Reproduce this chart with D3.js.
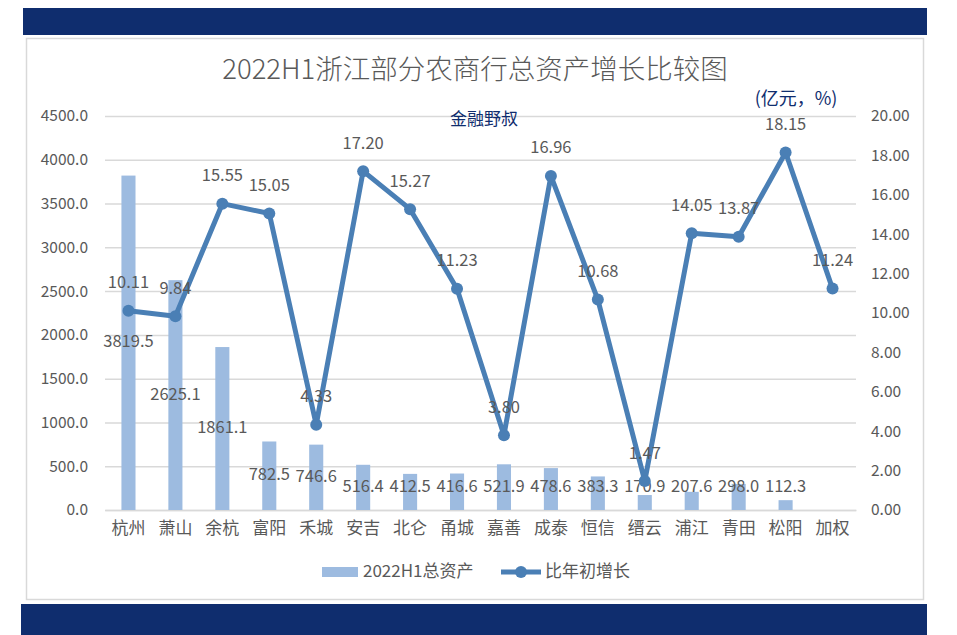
<!DOCTYPE html>
<html>
<head>
<meta charset="utf-8">
<script src="https://cdn.jsdelivr.net/npm/d3@7"></script>
<style>
    body { margin: 0; background: #fff; }
    svg text { font-family: "Noto Sans CJK SC", "Noto Sans", sans-serif; }
</style>
</head>
<body>
<div class="chart"></div>
<script>
// chart data
const banks = ["杭州", "萧山", "余杭", "富阳", "禾城", "安吉", "北仑", "甬城", "嘉善", "成泰", "恒信", "缙云", "浦江", "青田", "松阳", "加权"];
const totalAssets = [3819.5, 2625.1, 1861.1, 782.5, 746.6, 516.4, 412.5, 416.6, 521.9, 478.6, 383.3, 170.9, 207.6, 298.0, 112.3, null];
const growth = [10.11, 9.84, 15.55, 15.05, 4.33, 17.20, 15.27, 11.23, 3.80, 16.96, 10.68, 1.47, 14.05, 13.87, 18.15, 11.24];
const leftTicks = [0, 500, 1000, 1500, 2000, 2500, 3000, 3500, 4000, 4500];
const rightTicks = [0, 2, 4, 6, 8, 10, 12, 14, 16, 18, 20];

const width = 957, height = 635;
const margin = {top: 116, left: 105, right: 101, bottom: 125};
const navy = "#0f2d6e";
const barColor = "#9dbbe0";
const lineColor = "#4a7fb5";
const textGrey = "#595959";

const svg = d3.select(".chart").append("svg")
    .attr("width", width)
    .attr("height", height);

// frame: navy bars top & bottom, grey bordered box
svg.append("rect").attr("x", 23).attr("y", 8).attr("width", 904).attr("height", 27).style("fill", navy);
svg.append("rect").attr("x", 21).attr("y", 604).attr("width", 906).attr("height", 31).style("fill", navy);
svg.append("rect").attr("x", 26.5).attr("y", 38.5).attr("width", 897).attr("height", 561)
    .style("fill", "#fff").style("stroke", "#d9d9d9").style("stroke-width", 1.5);

const x = d3.scaleBand()
    .domain(banks)
    .range([margin.left, width - margin.right])
    .paddingInner(0.7)
    .paddingOuter(0.35);

const yL = d3.scaleLinear().domain([0, 4500]).range([height - margin.bottom, margin.top]);
const yR = d3.scaleLinear().domain([0, 20]).range([height - margin.bottom, margin.top]);

// gridlines
const grid = svg.append("g")
    .attr("transform", "translate(" + margin.left + ",0)")
    .call(d3.axisLeft(yL).tickValues(leftTicks)
        .tickSize(-(width - margin.left - margin.right)).tickFormat(""));
grid.select("path").remove();
grid.selectAll("line").style("stroke", "#d9d9d9").style("stroke-width", 1.5);

// left axis
const leftAxis = svg.append("g")
    .attr("transform", "translate(" + (margin.left - 14) + ",0)")
    .call(d3.axisLeft(yL).tickValues(leftTicks).tickSize(0).tickFormat(d3.format(".1f")));
leftAxis.select("path").remove();
leftAxis.selectAll("text").style("font-size", "15.5px").style("fill", textGrey);

// right axis
const rightAxis = svg.append("g")
    .attr("transform", "translate(" + (width - margin.right + 12) + ",0)")
    .call(d3.axisRight(yR).tickValues(rightTicks).tickSize(0).tickFormat(d3.format(".2f")));
rightAxis.select("path").remove();
rightAxis.selectAll("text").style("font-size", "15.5px").style("fill", textGrey);

// category axis
const xAxis = svg.append("g")
    .attr("transform", "translate(0," + (height - margin.bottom) + ")")
    .call(d3.axisBottom(x).tickSize(0).tickPadding(12));
xAxis.select("path").style("stroke", "#d9d9d9").style("stroke-width", 1.5);
xAxis.selectAll("text").style("font-size", "17px").style("fill", textGrey);

// bars
const barData = banks.map((b, i) => ({name: b, v: totalAssets[i]})).filter(d => d.v !== null);
svg.selectAll(".bar")
    .data(barData)
    .enter().append("rect")
    .attr("class", "bar")
    .attr("x", d => x(d.name))
    .attr("width", x.bandwidth())
    .attr("y", d => yL(d.v))
    .attr("height", d => yL(0) - yL(d.v))
    .style("fill", barColor);

// bar labels, centred in the bar but kept clear of the axis
svg.selectAll(".barLabel")
    .data(barData)
    .enter().append("text")
    .attr("x", d => x(d.name) + x.bandwidth() / 2)
    .attr("y", d => Math.min(yL(d.v / 2), yL(0) - 22))
    .attr("text-anchor", "middle")
    .attr("dominant-baseline", "middle")
    .style("font-size", "16.5px")
    .style("fill", textGrey)
    .text(d => d3.format(".1f")(d.v));

// growth line
const lineData = banks.map((b, i) => ({name: b, v: growth[i]}));
const cx = d => x(d.name) + x.bandwidth() / 2;
svg.append("path")
    .datum(lineData)
    .attr("d", d3.line().x(cx).y(d => yR(d.v)))
    .style("fill", "none")
    .style("stroke", lineColor)
    .style("stroke-width", 5)
    .style("stroke-linejoin", "round");

svg.selectAll(".dot")
    .data(lineData)
    .enter().append("circle")
    .attr("cx", cx)
    .attr("cy", d => yR(d.v))
    .attr("r", 6)
    .style("fill", lineColor);

svg.selectAll(".lineLabel")
    .data(lineData)
    .enter().append("text")
    .attr("x", cx)
    .attr("y", d => yR(d.v) - 27)
    .attr("text-anchor", "middle")
    .attr("dominant-baseline", "middle")
    .style("font-size", "16.5px")
    .style("fill", textGrey)
    .text(d => d3.format(".2f")(d.v));

// titles
svg.append("text")
    .attr("x", 475).attr("y", 72)
    .attr("text-anchor", "middle").attr("dominant-baseline", "middle")
    .style("font-size", "27.5px").style("font-weight", 300).style("fill", textGrey)
    .text("2022H1浙江部分农商行总资产增长比较图");

svg.append("text")
    .attr("x", 484).attr("y", 120)
    .attr("text-anchor", "middle").attr("dominant-baseline", "middle")
    .style("font-size", "17px").style("fill", navy)
    .text("金融野叔");

svg.append("text")
    .attr("x", 796).attr("y", 100)
    .attr("text-anchor", "middle").attr("dominant-baseline", "middle")
    .style("font-size", "18px").style("fill", navy)
    .text("(亿元，%)");

// legend
const legendY = 572;
svg.append("rect").attr("x", 322).attr("y", legendY - 5).attr("width", 36).attr("height", 10).style("fill", barColor);
svg.append("text").attr("x", 363).attr("y", legendY)
    .attr("dominant-baseline", "middle").style("font-size", "17px").style("fill", textGrey)
    .text("2022H1总资产");
svg.append("line").attr("x1", 501).attr("x2", 541).attr("y1", legendY).attr("y2", legendY)
    .style("stroke", lineColor).style("stroke-width", 5);
svg.append("circle").attr("cx", 521).attr("cy", legendY).attr("r", 6).style("fill", lineColor);
svg.append("text").attr("x", 545).attr("y", legendY)
    .attr("dominant-baseline", "middle").style("font-size", "17px").style("fill", textGrey)
    .text("比年初增长");
</script>
</body>
</html>
